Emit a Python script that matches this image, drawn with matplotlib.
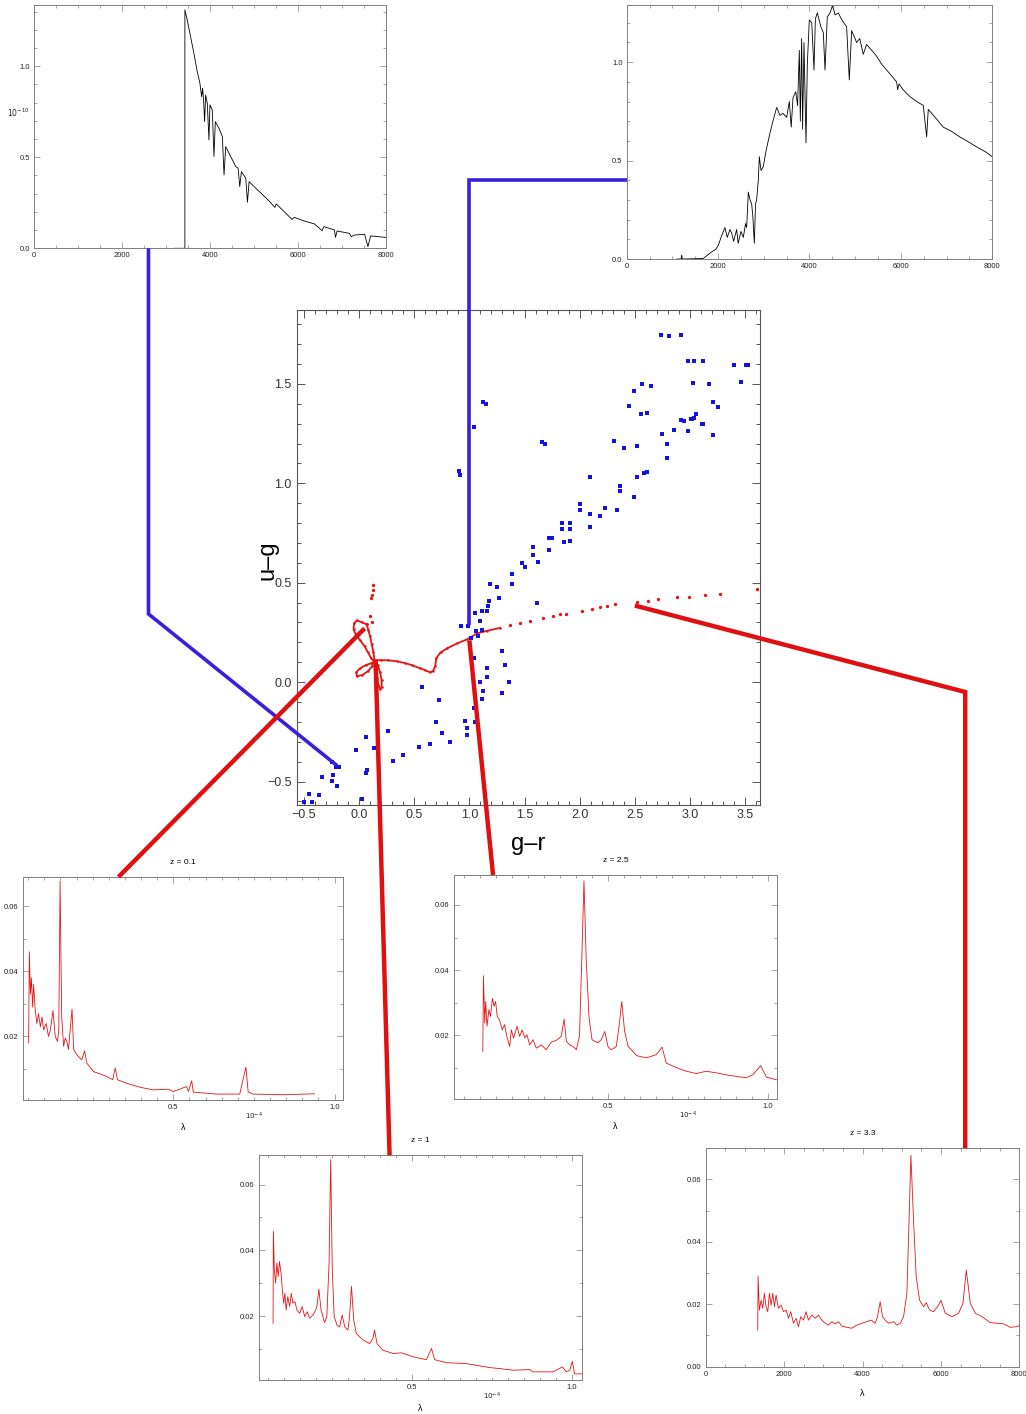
import matplotlib
matplotlib.use('Agg')
import matplotlib.pyplot as plt
from matplotlib.lines import Line2D
from matplotlib.ticker import MultipleLocator, FixedLocator, FormatStrFormatter
import matplotlib.transforms as mtransforms

plt.rcParams['font.family'] = ['Liberation Sans', 'DejaVu Sans']

# ---------------- spectre en haut a gauche (etoile chaude) ----------------
hot_wave = [3180, 3429, 3429, 3482, 3558, 3634, 3710, 3771, 3810, 3832, 3855, 3878, 3901, 3939,
            3977, 4000, 4053, 4091, 4122, 4206, 4282, 4320, 4358, 4472, 4587, 4640, 4678, 4716,
            4815, 4853, 4891, 5082, 5310, 5478, 5508, 5691, 5867, 5920, 6149, 6377, 6552, 6590,
            6834, 6857, 6895, 7177, 7215, 7291, 7520, 7596, 7657, 8000]
hot_flux = [0.0, 0.0, 1.31, 1.255, 1.163, 1.071, 0.971, 0.907, 0.833, 0.879, 0.815, 0.696, 0.842, 0.797,
            0.595, 0.788, 0.760, 0.504, 0.696, 0.659, 0.614, 0.403, 0.559, 0.504, 0.449, 0.44, 0.339, 0.421,
            0.385, 0.253, 0.366, 0.321, 0.269, 0.225, 0.244, 0.201, 0.159, 0.170, 0.150, 0.134, 0.097, 0.119,
            0.101, 0.060, 0.095, 0.082, 0.064, 0.073, 0.077, 0.009, 0.068, 0.060]

# ---------------- spectre en haut a droite (etoile froide) ----------------
cool_wave = [1100, 1190, 1203, 1216, 1677, 1823, 1950, 2006, 2080, 2151, 2200, 2261, 2300, 2340, 2407,
             2440, 2500, 2553, 2600, 2625, 2662, 2700, 2735, 2760, 2793, 2820, 2844, 2880, 2903, 2940,
             2990, 3050, 3136, 3200, 3282, 3355, 3420, 3501, 3560, 3600, 3640, 3700, 3740, 3778, 3800,
             3829, 3850, 3880, 3924, 3953, 3997, 4050, 4099, 4130, 4172, 4250, 4303, 4340, 4390, 4450,
             4507, 4560, 4631, 4720, 4813, 4872, 4923, 4980, 5032, 5100, 5178, 5250, 5324, 5400, 5470,
             5580, 5689, 5800, 5907, 5930, 5960, 6050, 6199, 6350, 6491, 6564, 6600, 6750, 6928, 7100,
             7293, 7480, 7658, 7850, 8000]
cool_flux = [0.0, 0.0, 0.02, 0.0, 0.003, 0.03, 0.05, 0.07, 0.12, 0.16, 0.11, 0.15, 0.13, 0.09, 0.15,
             0.08, 0.14, 0.11, 0.18, 0.16, 0.34, 0.30, 0.28, 0.22, 0.08, 0.28, 0.30, 0.40, 0.52, 0.45,
             0.47, 0.55, 0.64, 0.70, 0.77, 0.73, 0.74, 0.72, 0.80, 0.67, 0.82, 0.85, 0.78, 1.06, 0.70,
             1.12, 0.66, 1.10, 0.59, 0.99, 1.215, 1.20, 0.96, 1.22, 1.25, 1.18, 1.15, 0.96, 1.23, 1.25,
             1.29, 1.24, 1.25, 1.21, 1.18, 0.91, 1.16, 1.13, 1.10, 1.12, 1.04, 1.09, 1.07, 1.05, 1.03,
             0.99, 0.96, 0.93, 0.90, 0.86, 0.89, 0.86, 0.825, 0.80, 0.78, 0.62, 0.76, 0.72, 0.67, 0.65,
             0.62, 0.595, 0.57, 0.545, 0.52]

# ---------------- quasars (lambda en 1e-4) ----------------
q01_wave = [0.0515, 0.0536, 0.057, 0.060, 0.064, 0.067, 0.072, 0.077, 0.082, 0.088, 0.093, 0.098,
            0.106, 0.113, 0.119, 0.127, 0.134, 0.141, 0.145, 0.149, 0.154, 0.160, 0.165, 0.170, 0.175,
            0.186, 0.191, 0.201, 0.216, 0.225, 0.232, 0.253, 0.273, 0.294, 0.312, 0.320, 0.327, 0.356,
            0.397, 0.438, 0.485, 0.5, 0.541, 0.547, 0.557, 0.562, 0.634, 0.706, 0.725, 0.732, 0.747,
            0.840, 0.938]
q01_flux = [0.018, 0.046, 0.033, 0.038, 0.029, 0.036, 0.028, 0.024, 0.027, 0.023, 0.026, 0.022,
            0.024, 0.020, 0.022, 0.028, 0.020, 0.0185, 0.022, 0.0677, 0.026, 0.017, 0.0195, 0.0185, 0.016,
            0.0284, 0.016, 0.0144, 0.0128, 0.0156, 0.0118, 0.0092, 0.0085, 0.0077, 0.0067, 0.0103, 0.0067, 0.0056,
            0.0044, 0.0036, 0.0038, 0.0031, 0.0046, 0.0031, 0.0064, 0.0029, 0.0023, 0.0023, 0.0106, 0.003, 0.0023,
            0.0021, 0.0024]

q1_wave = [0.066, 0.067, 0.070, 0.074, 0.078, 0.082, 0.086, 0.091, 0.095, 0.099, 0.103, 0.107, 0.112,
           0.118, 0.123, 0.128, 0.134, 0.141, 0.149, 0.157, 0.165, 0.173, 0.180, 0.191, 0.199, 0.203,
           0.209, 0.216, 0.222, 0.227, 0.234, 0.241, 0.246, 0.251, 0.257, 0.266, 0.274, 0.282, 0.290,
           0.300, 0.305, 0.311, 0.318, 0.326, 0.347, 0.368, 0.378, 0.383, 0.391, 0.409, 0.441, 0.467,
           0.503, 0.545, 0.561, 0.571, 0.607, 0.670, 0.743, 0.774, 0.816, 0.868, 0.878, 0.941, 0.970,
           0.982, 0.993, 1.001, 1.008, 1.031]
q1_flux = [0.0178, 0.0458, 0.0341, 0.030, 0.0361, 0.032, 0.0366, 0.0331, 0.028, 0.0239, 0.0269, 0.0218, 0.0259,
           0.0229, 0.0269, 0.0239, 0.0244, 0.0218, 0.0208, 0.0229, 0.0198, 0.0213, 0.0193, 0.0203, 0.0218, 0.0229,
           0.0282, 0.0218, 0.0198, 0.018, 0.0198, 0.0361, 0.0676, 0.0341, 0.0198, 0.0172, 0.0167, 0.0203, 0.0167,
           0.0157, 0.0198, 0.029, 0.0188, 0.0147, 0.0127, 0.0116, 0.0132, 0.0157, 0.0116, 0.0096, 0.0086, 0.0088,
           0.0076, 0.0067, 0.0101, 0.0067, 0.0058, 0.0055, 0.0043, 0.004, 0.0035, 0.0037, 0.003, 0.003, 0.0045,
           0.003, 0.0035, 0.0062, 0.0024, 0.0024]

q25_wave = [0.109, 0.111, 0.115, 0.118, 0.122, 0.128, 0.133, 0.139, 0.144, 0.149, 0.154, 0.161, 0.170,
            0.177, 0.184, 0.193, 0.198, 0.205, 0.216, 0.224, 0.232, 0.240, 0.247, 0.255, 0.266, 0.276,
            0.292, 0.307, 0.323, 0.339, 0.354, 0.363, 0.370, 0.380, 0.391, 0.401, 0.411, 0.419, 0.425,
            0.432, 0.441, 0.450, 0.458, 0.469, 0.479, 0.490, 0.5, 0.510, 0.526, 0.536, 0.543, 0.552,
            0.563, 0.573, 0.589, 0.620, 0.651, 0.669, 0.682, 0.724, 0.745, 0.776, 0.807, 0.839, 0.880,
            0.932, 0.953, 0.977, 0.995, 1.026]
q25_flux = [0.0151, 0.0383, 0.0238, 0.0304, 0.0228, 0.0279, 0.0258, 0.0314, 0.0289, 0.0304, 0.0258, 0.0248, 0.0217,
            0.0233, 0.0197, 0.0166, 0.0217, 0.0192, 0.0228, 0.0197, 0.0217, 0.0192, 0.0202, 0.0171, 0.0187, 0.0161,
            0.0171, 0.0156, 0.0179, 0.0185, 0.0197, 0.025, 0.0182, 0.0171, 0.0166, 0.0156, 0.0197, 0.0462, 0.0674,
            0.0432, 0.0253, 0.0187, 0.0182, 0.0177, 0.0187, 0.0212, 0.0166, 0.0156, 0.0166, 0.0238, 0.0304, 0.0212,
            0.0166, 0.0156, 0.0138, 0.0131, 0.0141, 0.0164, 0.0115, 0.0097, 0.0090, 0.0083, 0.0090, 0.0085, 0.0077,
            0.0070, 0.0080, 0.0107, 0.0072, 0.0064]

# z = 3.3 en Angstrom
q33_wave = [1328, 1336, 1370, 1413, 1455, 1498, 1540, 1583, 1626, 1668, 1711, 1753, 1796, 1855, 1924, 1983,
            2051, 2111, 2170, 2238, 2306, 2366, 2426, 2494, 2562, 2621, 2706, 2792, 2877, 2962, 3047, 3132,
            3217, 3302, 3387, 3472, 3600, 3728, 3855, 3983, 4111, 4221, 4324, 4383, 4451, 4511, 4579, 4664,
            4792, 4877, 4962, 5047, 5132, 5192, 5234, 5302, 5370, 5455, 5558, 5626, 5711, 5813, 5941, 6000,
            6111, 6281, 6451, 6562, 6647, 6749, 6877, 7047, 7260, 7600, 7770, 7941, 8009]
q33_flux = [0.0117, 0.029, 0.0181, 0.0213, 0.0187, 0.0235, 0.0192, 0.0176, 0.0235, 0.0197, 0.0235, 0.0192, 0.0229,
            0.0187, 0.0197, 0.0176, 0.0181, 0.0155, 0.0176, 0.0139, 0.0155, 0.0128, 0.016, 0.0149, 0.0176, 0.0149,
            0.0165, 0.0155, 0.0165, 0.0149, 0.0139, 0.0133, 0.0144, 0.0137, 0.0144, 0.013, 0.0126, 0.0123, 0.0133,
            0.0139, 0.0144, 0.0149, 0.0139, 0.016, 0.0208, 0.016, 0.0149, 0.0139, 0.0144, 0.0133, 0.0139, 0.016,
            0.0235, 0.049, 0.0677, 0.0469, 0.0288, 0.0213, 0.0192, 0.0205, 0.0181, 0.0176, 0.0197, 0.0213, 0.0171,
            0.016, 0.0171, 0.0203, 0.0309, 0.0203, 0.0171, 0.016, 0.0141, 0.0137, 0.0126, 0.0128, 0.0133]

# ---------------- diagramme couleur-couleur ----------------
# etoiles (bleu)
star_gr = [2.735, 2.811, 2.917, 2.978, 3.038, 3.114, 3.403, 3.525, 3.464, 2.491, 2.568, 2.644, 3.024, 3.176,
           2.446, 2.553, 2.614, 1.125, 1.155, 3.206, 3.251, 1.040, 2.947, 3.008, 3.038, 3.054, 3.114, 2.978,
           2.750, 2.856, 3.206, 1.656, 1.687, 2.310, 2.401, 2.523, 2.795, 2.789, 0.903, 0.913, 2.097, 2.370,
           2.370, 2.491, 2.523, 2.583, 2.614, 2.000, 2.000, 2.097, 2.188, 2.234, 2.340, 1.839, 1.839, 1.915,
           1.915, 2.097, 1.718, 1.748, 1.718, 1.854, 1.915, 1.575, 1.575, 1.626, 1.475, 1.505, 1.383, 1.383,
           1.186, 1.253, 1.271, 1.180, 1.171, 1.156, 1.611, 1.049, 1.110, 1.095, 0.921, 0.988, 1.064, 1.110,
           1.019, 1.080, 1.298, 1.322, 1.356, 1.298, 1.162, 1.162, 1.095, 1.125, 1.110, 1.040, 1.040, 1.049,
           0.958, 0.979, 0.979, 0.724, 0.694, 0.755, 0.824, 0.572, 0.639, 0.542, 0.260, 0.311, 0.396, 0.062,
           0.132, -0.026, 0.071, 0.062, 0.031, -0.242, -0.205, -0.181, -0.236, -0.242, -0.196, -0.339, -0.363,
           -0.454, -0.424, -0.500, 2.916, 3.016, 3.107, 3.509]
star_ug = [1.744, 1.739, 1.744, 1.614, 1.614, 1.614, 1.595, 1.595, 1.510, 1.465, 1.497, 1.488, 1.505, 1.497,
           1.387, 1.348, 1.353, 1.407, 1.398, 1.411, 1.384, 1.285, 1.315, 1.321, 1.330, 1.351, 1.297, 1.261,
           1.249, 1.267, 1.243, 1.209, 1.200, 1.213, 1.177, 1.186, 1.198, 1.126, 1.063, 1.041, 1.032, 0.987,
           0.960, 0.933, 1.032, 1.050, 1.059, 0.894, 0.865, 0.843, 0.834, 0.874, 0.865, 0.802, 0.771, 0.802,
           0.771, 0.780, 0.723, 0.726, 0.663, 0.705, 0.708, 0.681, 0.641, 0.605, 0.600, 0.577, 0.542, 0.492,
           0.492, 0.477, 0.425, 0.407, 0.384, 0.360, 0.396, 0.348, 0.357, 0.306, 0.281, 0.281, 0.258, 0.263,
           0.222, 0.231, 0.155, 0.086, 0.002, -0.054, 0.072, 0.027, 0.000, -0.045, -0.085, 0.123, -0.130, -0.202,
           -0.198, -0.229, -0.265, -0.088, -0.202, -0.256, -0.301, -0.025, -0.310, -0.328, -0.247, -0.396, -0.368, -0.277,
           -0.333, -0.341, -0.441, -0.459, -0.589, -0.400, -0.427, -0.427, -0.468, -0.499, -0.523, -0.476, -0.568,
           -0.562, -0.602, -0.604, 1.318, 1.321, 1.298, 1.595]

# trace des quasars (rouge) : boucles a bas z
qso_loop_gr = [0.07, 0.03, -0.02, -0.045, -0.05, -0.03, 0.01, 0.05, 0.08, 0.11, 0.14, 0.155, 0.165, 0.175,
               0.19, 0.205, 0.205, 0.19, 0.17, 0.15, 0.11, 0.06, 0.01, -0.025, -0.02, 0.03, 0.08, 0.12, 0.14,
               0.13, 0.115, 0.10, 0.085, 0.07]
qso_loop_ug = [0.29, 0.30, 0.31, 0.295, 0.265, 0.24, 0.21, 0.18, 0.15, 0.12, 0.10, 0.06, 0.02, -0.015,
               -0.035, -0.025, 0.01, 0.05, 0.085, 0.10, 0.095, 0.085, 0.07, 0.05, 0.03, 0.035, 0.055, 0.08, 0.11,
               0.15, 0.19, 0.23, 0.26, 0.29]
qso_track_gr = [0.15, 0.2, 0.26, 0.34, 0.42, 0.48, 0.55, 0.60, 0.64, 0.67, 0.69, 0.70, 0.74, 0.80, 0.89,
                0.98, 1.07, 1.16, 1.28]
qso_track_ug = [0.11, 0.11, 0.11, 0.105, 0.095, 0.085, 0.07, 0.06, 0.05, 0.055, 0.08, 0.12, 0.15, 0.17, 0.195,
                0.215, 0.245, 0.258, 0.273]
qso_dots_gr = [0.13, 0.124, 0.115, 0.106, 0.10, 0.115, 1.37, 1.46, 1.55, 1.67, 1.76, 1.82, 1.88, 2.02, 2.11,
               2.185, 2.25, 2.32, 2.52, 2.62, 2.71, 2.88, 2.99, 3.14, 3.27, 3.61]
qso_dots_ug = [0.488, 0.463, 0.438, 0.421, 0.33, 0.303, 0.287, 0.298, 0.307, 0.32, 0.332, 0.345, 0.342, 0.36,
               0.366, 0.379, 0.382, 0.391, 0.404, 0.409, 0.416, 0.429, 0.429, 0.438, 0.443, 0.466]

BLUE = '#1212e6'
RED = '#e81414'
LINK_BLUE = '#3a1fe0'
LINK_RED = '#e01010'
SPINE = '#808080'

fig = plt.figure(figsize=(10.26, 14.14), dpi=100)


def small_panel(rect, xlim, ylim, xmaj, xminor, ymaj, yminor, xfmt, yfmt):
    ax = fig.add_axes(rect)
    ax.set_xlim(xlim)
    ax.set_ylim(ylim)
    ax.xaxis.set_major_locator(FixedLocator(xmaj))
    ax.xaxis.set_minor_locator(MultipleLocator(xminor))
    ax.yaxis.set_major_locator(FixedLocator(ymaj))
    ax.yaxis.set_minor_locator(MultipleLocator(yminor))
    ax.xaxis.set_major_formatter(FormatStrFormatter(xfmt))
    ax.yaxis.set_major_formatter(FormatStrFormatter(yfmt))
    ax.tick_params(which='both', direction='in', top=True, right=True, color=SPINE,
                   labelsize=5.5, labelcolor='#222222', width=0.5, pad=3)
    ax.tick_params(which='major', length=4)
    ax.tick_params(which='minor', length=2)
    for sp in ax.spines.values():
        sp.set_color(SPINE)
        sp.set_linewidth(0.7)
    return ax


# spectres du haut
ax_tl = small_panel([0.0334, 0.8244, 0.3425, 0.1721], (0, 8000), (0, 1.337),
                    [0, 2000, 4000, 6000, 8000], 500, [0.0, 0.5, 1.0], 0.1, '%d', '%.1f')
ax_tl.plot(hot_wave, hot_flux, color='black', lw=0.6)
ax_tl.text(-0.045, 0.745, r'$10^{-10}$', transform=mtransforms.blended_transform_factory(ax_tl.transAxes, ax_tl.transData),
           fontsize=5.5, ha='center', va='center', color='#222222')

ax_tr = small_panel([0.6108, 0.8168, 0.3563, 0.1796], (0, 8000), (0, 1.29),
                    [0, 2000, 4000, 6000, 8000], 500, [0.0, 0.5, 1.0], 0.1, '%d', '%.1f')
ax_tr.plot(cool_wave, cool_flux, color='black', lw=0.6)

# diagramme couleur-couleur
ax_cc = fig.add_axes([0.2891, 0.4310, 0.4519, 0.3501])
ax_cc.set_xlim(-0.566, 3.637)
ax_cc.set_ylim(-0.616, 1.874)
ax_cc.xaxis.set_major_locator(MultipleLocator(0.5))
ax_cc.xaxis.set_minor_locator(MultipleLocator(0.1))
ax_cc.yaxis.set_major_locator(MultipleLocator(0.5))
ax_cc.yaxis.set_minor_locator(MultipleLocator(0.1))
ax_cc.tick_params(which='both', direction='in', top=True, right=True, color='#555555',
                  labelsize=9, labelcolor='#333333', width=0.7)
ax_cc.tick_params(which='major', length=6)
ax_cc.tick_params(which='minor', length=3)
for sp in ax_cc.spines.values():
    sp.set_color('#555555')
    sp.set_linewidth(0.8)
ax_cc.plot(qso_loop_gr, qso_loop_ug, color=RED, lw=1.3, marker='o', ms=1.8, mew=0)
ax_cc.plot(qso_track_gr, qso_track_ug, color=RED, lw=1.3, marker='o', ms=1.8, mew=0)
ax_cc.plot(qso_dots_gr, qso_dots_ug, ls='none', color=RED, marker='o', ms=2.4, mew=0)
ax_cc.plot(star_gr, star_ug, ls='none', color=BLUE, marker='s', ms=2.6, mew=0)
ax_cc.text(0.5, -0.079, 'g\u2013r', transform=ax_cc.transAxes, fontsize=17, ha='center', va='center')
ax_cc.text(-0.063, 0.494, 'u\u2013g', transform=ax_cc.transAxes, fontsize=17, ha='center', va='center',
           rotation=90)

# spectres des quasars
ax_z01 = small_panel([0.0224, 0.2221, 0.3119, 0.1577], (0.034, 1.026), (0.0005, 0.069),
                     [0.5, 1.0], 0.05, [0.02, 0.04, 0.06], 0.01, '%.1f', '%.2f')
ax_z01.plot(q01_wave, q01_flux, color=RED, lw=0.6)

ax_z25 = small_panel([0.4425, 0.2228, 0.3148, 0.1584], (0.019, 1.028), (0.0005, 0.0692),
                     [0.5, 1.0], 0.05, [0.02, 0.04, 0.06], 0.01, '%.1f', '%.2f')
ax_z25.plot(q25_wave, q25_flux, color=RED, lw=0.6)

ax_z1 = small_panel([0.2524, 0.0240, 0.3148, 0.1591], (0.022, 1.031), (0.0005, 0.069),
                    [0.5, 1.0], 0.05, [0.02, 0.04, 0.06], 0.01, '%.1f', '%.2f')
ax_z1.plot(q1_wave, q1_flux, color=RED, lw=0.6)

ax_z33 = small_panel([0.6878, 0.0335, 0.3057, 0.1545], (0, 8000), (0, 0.07),
                     [0, 2000, 4000, 6000, 8000], 500, [0.0, 0.02, 0.04, 0.06], 0.01, '%d', '%.2f')
ax_z33.plot(q33_wave, q33_flux, color=RED, lw=0.6)

for ax, title, scale in [(ax_z01, 'z = 0.1', True), (ax_z25, 'z = 2.5', True),
                         (ax_z1, 'z = 1', True), (ax_z33, 'z = 3.3', False)]:
    ax.text(0.5, 1.065, title, transform=ax.transAxes, fontsize=6, ha='center', va='center')
    ax.text(0.5, -0.125, '\u03bb', transform=ax.transAxes, fontsize=6.5, ha='center', va='center')
    if scale:
        tr = mtransforms.blended_transform_factory(ax.transData, ax.transAxes)
        ax.text(0.75, -0.072, r'$10^{-4}$', transform=tr, fontsize=5, ha='center', va='center',
                color='#222222')


# traits de liaison entre spectres et points du diagramme
def fig_pt(ax, xy):
    return fig.transFigure.inverted().transform(ax.transData.transform(xy))


def link(points, color, lw):
    xs = [p[0] for p in points]
    ys = [p[1] for p in points]
    fig.add_artist(Line2D(xs, ys, transform=fig.transFigure, color=color, lw=lw,
                          solid_capstyle='butt', solid_joinstyle='miter', zorder=5))


# etoile chaude -> point bleu en bas a gauche
s = fig_pt(ax_tl, (2600, 0))
e = fig_pt(ax_cc, (-0.2, -0.42))
link([s, (s[0], 0.5658), e], LINK_BLUE, 2.6)

# etoile froide -> point bleu vers g-r = 1
s = fig_pt(ax_tr, (0, 0.40))
e = fig_pt(ax_cc, (1.0, 0.285))
link([s, (e[0], s[1]), e], LINK_BLUE, 2.6)

# quasars
link([fig_pt(ax_z01, (0.33, 0.069)), fig_pt(ax_cc, (0.05, 0.27))], LINK_RED, 3.2)
link([fig_pt(ax_z1, (0.43, 0.069)), fig_pt(ax_cc, (0.15, 0.11))], LINK_RED, 3.2)
link([fig_pt(ax_z25, (0.141, 0.0692)), fig_pt(ax_cc, (1.0, 0.21))], LINK_RED, 3.2)
s = fig_pt(ax_z33, (6620, 0.07))
link([s, (s[0], 0.5106), fig_pt(ax_cc, (2.5, 0.385))], LINK_RED, 3.2)

fig.savefig('out.png', dpi=100)
